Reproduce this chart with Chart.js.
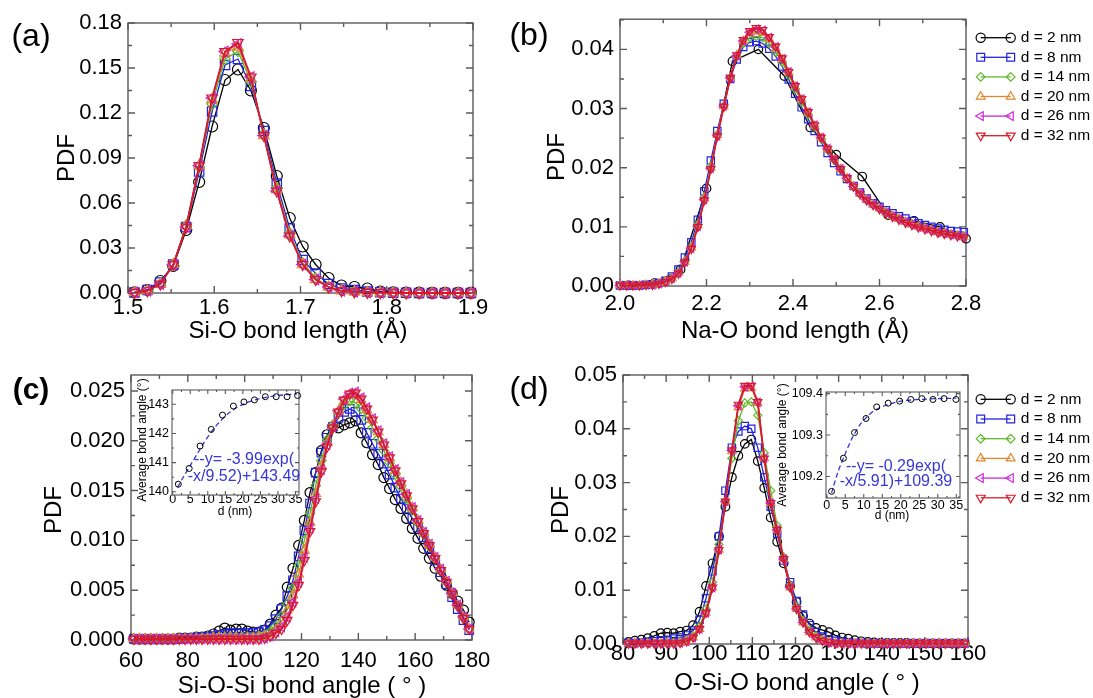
<!DOCTYPE html>
<html>
<head>
<meta charset="utf-8">
<script src="https://cdn.jsdelivr.net/npm/chart.js@4.4.1/dist/chart.umd.min.js"></script>
<style>
  html, body { margin: 0; padding: 0; background: #fff; }
  #wrap { position: relative; width: 1093px; height: 698px; overflow: hidden; }
  canvas { position: absolute; }
</style>
</head>
<body>
<div id="wrap">
  <canvas id="panelA"></canvas>
  <canvas id="panelB"></canvas>
  <canvas id="panelC"></canvas>
  <canvas id="panelD"></canvas>
  <canvas id="insetC"></canvas>
  <canvas id="insetD"></canvas>
</div>
<script>
// film thicknesses (legend)
const sizes = ['d = 2 nm', 'd = 8 nm', 'd = 14 nm', 'd = 20 nm', 'd = 26 nm', 'd = 32 nm'];

// bin centres
const steps = (start, step, n) => Array.from({ length: n }, (_, i) => +(start + i * step).toFixed(4));
const aX = steps(1.5075, 0.015, 27);
const bX = steps(2.0, 0.015, 54);
const bXd2 = [2.02, 2.08, 2.14, 2.20, 2.26, 2.32, 2.38, 2.44, 2.50, 2.56, 2.62, 2.68, 2.74, 2.80];
const cX = steps(61, 2, 60);
const dX = steps(81.25, 1.5, 53);

// (a) Si-O bond length PDF
const aD2 = [0.0005, 0.002, 0.008, 0.018, 0.042, 0.074, 0.111, 0.142, 0.149, 0.135, 0.110, 0.078, 0.050, 0.031, 0.019, 0.010, 0.005, 0.004, 0.003, 0.001, 0.0005, 0.0003, 0.0002, 0.0001, 0.0001, 0.0001, 0.0001];
const aD8 = [0.0003, 0.002, 0.007, 0.019, 0.044, 0.081, 0.121, 0.152, 0.156, 0.138, 0.108, 0.073, 0.043, 0.022, 0.013, 0.006, 0.003, 0.002, 0.001, 0.0005, 0.0002, 0.0001, 0, 0, 0, 0, 0];
const aD14 = [0.0003, 0.0015, 0.006, 0.019, 0.045, 0.084, 0.126, 0.156, 0.161, 0.141, 0.106, 0.070, 0.040, 0.020, 0.010, 0.004, 0.0015, 0.0008, 0.0004, 0.0002, 0.0001, 0, 0, 0, 0, 0, 0];
const aD20 = [0.0003, 0.0015, 0.006, 0.019, 0.045, 0.085, 0.129, 0.160, 0.164, 0.143, 0.105, 0.069, 0.039, 0.019, 0.009, 0.004, 0.0015, 0.0007, 0.0003, 0.0001, 0, 0, 0, 0, 0, 0, 0];
const aD26 = [0.0003, 0.0015, 0.006, 0.019, 0.044, 0.085, 0.130, 0.161, 0.166, 0.144, 0.105, 0.068, 0.038, 0.019, 0.009, 0.004, 0.0015, 0.0008, 0.0004, 0.0002, 0.0001, 0, 0, 0, 0, 0, 0];
const aD32 = [0.0003, 0.0015, 0.006, 0.019, 0.044, 0.085, 0.130, 0.161, 0.167, 0.144, 0.105, 0.068, 0.038, 0.019, 0.009, 0.004, 0.0015, 0.0008, 0.0004, 0.0002, 0.0001, 0, 0, 0, 0, 0, 0];

// (b) Na-O bond length PDF
const bD2 = [0.0001, 0.0005, 0.0028, 0.0165, 0.0380, 0.0400, 0.0355, 0.0268, 0.0222, 0.0185, 0.0120, 0.0110, 0.0100, 0.0080];
const bD8 = [0.0001, 0.0001, 0.0001, 0.0001, 0.0002, 0.0003, 0.0005, 0.0009, 0.0016, 0.0028,
  0.0048, 0.0074, 0.0112, 0.0160, 0.0212, 0.0262, 0.0308, 0.0350, 0.0383, 0.0404,
  0.0412, 0.0414, 0.0410, 0.0401, 0.0388, 0.0371, 0.0349, 0.0325, 0.0302, 0.0282,
  0.0262, 0.0243, 0.0225, 0.0208, 0.0194, 0.0181, 0.0169, 0.0158, 0.0148, 0.0140,
  0.0134, 0.0128, 0.0123, 0.0118, 0.0114, 0.0110, 0.0106, 0.0103, 0.0100, 0.0097,
  0.0095, 0.0093, 0.0092, 0.0091];
const bD14 = [0.0001, 0.0001, 0.0001, 0.0001, 0.0002, 0.0003, 0.0004, 0.0008, 0.0014, 0.0023,
  0.0042, 0.0066, 0.0104, 0.0150, 0.0203, 0.0256, 0.0305, 0.0352, 0.0388, 0.0410,
  0.0420, 0.0422, 0.0420, 0.0410, 0.0396, 0.0378, 0.0357, 0.0333, 0.0311, 0.0290,
  0.0269, 0.0249, 0.0230, 0.0213, 0.0197, 0.0182, 0.0168, 0.0156, 0.0146, 0.0138,
  0.0131, 0.0125, 0.0119, 0.0114, 0.0109, 0.0105, 0.0101, 0.0098, 0.0095, 0.0092,
  0.0090, 0.0088, 0.0086, 0.0084];
const bD20 = [0.0001, 0.0001, 0.0001, 0.0001, 0.0002, 0.0002, 0.0004, 0.0007, 0.0013, 0.0022,
  0.0041, 0.0065, 0.0102, 0.0148, 0.0200, 0.0255, 0.0304, 0.0352, 0.0390, 0.0414,
  0.0427, 0.0430, 0.0428, 0.0417, 0.0402, 0.0383, 0.0361, 0.0337, 0.0315, 0.0293,
  0.0271, 0.0250, 0.0231, 0.0214, 0.0198, 0.0182, 0.0168, 0.0156, 0.0146, 0.0138,
  0.0131, 0.0124, 0.0118, 0.0113, 0.0108, 0.0104, 0.0100, 0.0097, 0.0094, 0.0091,
  0.0089, 0.0087, 0.0085, 0.0083];
const bD26 = [0.0001, 0.0001, 0.0001, 0.0001, 0.0002, 0.0002, 0.0004, 0.0007, 0.0013, 0.0022,
  0.0041, 0.0064, 0.0101, 0.0146, 0.0199, 0.0254, 0.0304, 0.0352, 0.0389, 0.0414,
  0.0429, 0.0434, 0.0432, 0.0420, 0.0404, 0.0384, 0.0362, 0.0338, 0.0316, 0.0294,
  0.0272, 0.0251, 0.0232, 0.0214, 0.0198, 0.0182, 0.0168, 0.0156, 0.0146, 0.0138,
  0.0131, 0.0124, 0.0118, 0.0113, 0.0108, 0.0104, 0.0100, 0.0097, 0.0094, 0.0091,
  0.0089, 0.0087, 0.0085, 0.0083];
const bD32 = [0.0001, 0.0001, 0.0001, 0.0001, 0.0002, 0.0002, 0.0004, 0.0007, 0.0012, 0.0021,
  0.0040, 0.0063, 0.0100, 0.0145, 0.0198, 0.0253, 0.0303, 0.0352, 0.0390, 0.0416,
  0.0431, 0.0436, 0.0433, 0.0421, 0.0405, 0.0385, 0.0362, 0.0338, 0.0316, 0.0294,
  0.0272, 0.0251, 0.0232, 0.0214, 0.0198, 0.0182, 0.0168, 0.0155, 0.0145, 0.0137,
  0.0130, 0.0123, 0.0117, 0.0112, 0.0107, 0.0103, 0.0099, 0.0096, 0.0093, 0.0090,
  0.0088, 0.0086, 0.0084, 0.0082];

// (c) Si-O-Si bond angle PDF
const cD2 = [0.0001, 0.0001, 0.0001, 0.0001, 0.0001, 0.0001, 0.0001, 0.0001, 0.0002, 0.0002,
  0.0002, 0.0003, 0.0003, 0.0004, 0.0006, 0.0009, 0.0012, 0.0010, 0.0011, 0.0011,
  0.0009, 0.0008, 0.0008, 0.0010, 0.0016, 0.0025, 0.0032, 0.0053, 0.0072, 0.0095,
  0.0120, 0.0148, 0.0168, 0.0190, 0.0206, 0.0214, 0.0213, 0.0216, 0.0218, 0.0220,
  0.0208, 0.0198, 0.0186, 0.0176, 0.0163, 0.0152, 0.0141, 0.0132, 0.0122, 0.0112,
  0.0102, 0.0092, 0.0082, 0.0072, 0.0064, 0.0055, 0.0047, 0.0039, 0.0030, 0.0018];
const cD8 = [0.0001, 0.0001, 0.0001, 0.0001, 0.0001, 0.0001, 0.0001, 0.0001, 0.0001, 0.0002,
  0.0002, 0.0002, 0.0003, 0.0003, 0.0004, 0.0005, 0.0006, 0.0007, 0.0007, 0.0007,
  0.0007, 0.0007, 0.0008, 0.0010, 0.0014, 0.0021, 0.0031, 0.0044, 0.0060, 0.0084,
  0.0110, 0.0137, 0.0168, 0.0188, 0.0203, 0.0214, 0.0223, 0.0229, 0.0232, 0.0229,
  0.0221, 0.0208, 0.0197, 0.0187, 0.0177, 0.0166, 0.0153, 0.0142, 0.0132, 0.0122,
  0.0113, 0.0103, 0.0092, 0.0080, 0.0068, 0.0056, 0.0043, 0.0031, 0.0020, 0.0010];
const cD14 = [0.0001, 0.0001, 0.0001, 0.0001, 0.0001, 0.0001, 0.0001, 0.0001, 0.0001, 0.0001,
  0.0001, 0.0001, 0.0002, 0.0002, 0.0002, 0.0003, 0.0003, 0.0003, 0.0003, 0.0003,
  0.0003, 0.0003, 0.0004, 0.0005, 0.0008, 0.0014, 0.0024, 0.0036, 0.0052, 0.0075,
  0.0100, 0.0127, 0.0155, 0.0180, 0.0201, 0.0216, 0.0228, 0.0236, 0.0240, 0.0238,
  0.0232, 0.0223, 0.0213, 0.0202, 0.0190, 0.0178, 0.0166, 0.0154, 0.0142, 0.0130,
  0.0118, 0.0106, 0.0094, 0.0082, 0.0070, 0.0058, 0.0046, 0.0034, 0.0022, 0.0011];
const cD20 = [0.0001, 0.0001, 0.0001, 0.0001, 0.0001, 0.0001, 0.0001, 0.0001, 0.0001, 0.0001,
  0.0001, 0.0001, 0.0001, 0.0001, 0.0002, 0.0002, 0.0002, 0.0002, 0.0002, 0.0002,
  0.0002, 0.0002, 0.0003, 0.0004, 0.0005, 0.0010, 0.0018, 0.0030, 0.0045, 0.0066,
  0.0090, 0.0118, 0.0147, 0.0175, 0.0198, 0.0215, 0.0230, 0.0240, 0.0246, 0.0247,
  0.0241, 0.0231, 0.0221, 0.0209, 0.0196, 0.0183, 0.0170, 0.0158, 0.0146, 0.0133,
  0.0120, 0.0108, 0.0096, 0.0083, 0.0071, 0.0059, 0.0047, 0.0035, 0.0023, 0.0011];
const cD26 = [0.0001, 0.0001, 0.0001, 0.0001, 0.0001, 0.0001, 0.0001, 0.0001, 0.0001, 0.0001,
  0.0001, 0.0001, 0.0001, 0.0001, 0.0001, 0.0001, 0.0001, 0.0001, 0.0001, 0.0001,
  0.0001, 0.0001, 0.0001, 0.0002, 0.0004, 0.0008, 0.0013, 0.0023, 0.0038, 0.0058,
  0.0083, 0.0112, 0.0142, 0.0171, 0.0196, 0.0214, 0.0230, 0.0242, 0.0248, 0.0249,
  0.0243, 0.0233, 0.0222, 0.0210, 0.0197, 0.0184, 0.0171, 0.0158, 0.0146, 0.0133,
  0.0120, 0.0108, 0.0096, 0.0083, 0.0071, 0.0059, 0.0047, 0.0035, 0.0023, 0.0011];
const cD32 = [0.0001, 0.0001, 0.0001, 0.0001, 0.0001, 0.0001, 0.0001, 0.0001, 0.0001, 0.0001,
  0.0001, 0.0001, 0.0001, 0.0001, 0.0001, 0.0001, 0.0001, 0.0001, 0.0001, 0.0001,
  0.0001, 0.0001, 0.0001, 0.0002, 0.0004, 0.0007, 0.0011, 0.0020, 0.0035, 0.0055,
  0.0080, 0.0109, 0.0139, 0.0169, 0.0194, 0.0213, 0.0229, 0.0241, 0.0247, 0.0248,
  0.0242, 0.0232, 0.0221, 0.0209, 0.0196, 0.0183, 0.0170, 0.0157, 0.0145, 0.0132,
  0.0119, 0.0107, 0.0095, 0.0082, 0.0070, 0.0058, 0.0046, 0.0034, 0.0022, 0.0011];

// (d) O-Si-O bond angle PDF
const dD2 = [0.0004, 0.0006, 0.0008, 0.0011, 0.0015, 0.0020, 0.0021, 0.0020, 0.0023, 0.0025,
  0.0035, 0.0060, 0.0108, 0.0150, 0.0200, 0.0255, 0.0310, 0.0350, 0.0372, 0.0380,
  0.0340, 0.0290, 0.0235, 0.0190, 0.0150, 0.0108, 0.0078, 0.0052, 0.0038, 0.0030,
  0.0026, 0.0022, 0.0016, 0.0012, 0.0010, 0.0007, 0.0005, 0.0004, 0.0003, 0.0002,
  0.0002, 0.0002, 0.0002, 0.0002, 0.0001, 0.0001, 0.0001, 0.0001, 0.0001, 0.0001,
  0.0001, 0.0001, 0.0001];
const dD8 = [0.0002, 0.0002, 0.0003, 0.0004, 0.0005, 0.0007, 0.0008, 0.0010, 0.0012, 0.0016,
  0.0025, 0.0045, 0.0085, 0.0135, 0.0200, 0.0285, 0.0365, 0.0395, 0.0405, 0.0400,
  0.0365, 0.0310, 0.0255, 0.0205, 0.0155, 0.0115, 0.0080, 0.0055, 0.0035, 0.0022,
  0.0014, 0.0009, 0.0006, 0.0004, 0.0003, 0.0002, 0.0002, 0.0001, 0.0001, 0.0001,
  0.0001, 0.0001, 0.0001, 0.0001, 0.0001, 0.0001, 0.0001, 0.0001, 0.0001, 0.0001,
  0.0001, 0.0001, 0.0001];
const dD14 = [0.0001, 0.0001, 0.0001, 0.0001, 0.0001, 0.0001, 0.0002, 0.0003, 0.0004, 0.0007,
  0.0015, 0.0033, 0.0065, 0.0115, 0.0185, 0.0265, 0.0345, 0.0415, 0.0448, 0.0450,
  0.0425, 0.0355, 0.0285, 0.0220, 0.0162, 0.0110, 0.0070, 0.0044, 0.0026, 0.0015,
  0.0008, 0.0004, 0.0002, 0.0001, 0.0001, 0.0001, 0.0001, 0.0001, 0.0001, 0.0001,
  0.0001, 0.0001, 0.0001, 0.0001, 0.0001, 0.0001, 0.0001, 0.0001, 0.0001, 0.0001,
  0.0001, 0.0001, 0.0001];
const dD20 = [0.0001, 0.0001, 0.0001, 0.0001, 0.0001, 0.0001, 0.0001, 0.0001, 0.0002, 0.0005,
  0.0012, 0.0028, 0.0058, 0.0105, 0.0175, 0.0265, 0.0358, 0.0440, 0.0475, 0.0476,
  0.0448, 0.0345, 0.0262, 0.0212, 0.0158, 0.0105, 0.0065, 0.0040, 0.0022, 0.0012,
  0.0006, 0.0003, 0.0001, 0.0001, 0.0001, 0.0001, 0.0001, 0.0001, 0.0001, 0.0001,
  0.0001, 0.0001, 0.0001, 0.0001, 0.0001, 0.0001, 0.0001, 0.0001, 0.0001, 0.0001,
  0.0001, 0.0001, 0.0001];
const dD26 = [0.0001, 0.0001, 0.0001, 0.0001, 0.0001, 0.0001, 0.0001, 0.0001, 0.0002, 0.0005,
  0.0012, 0.0028, 0.0058, 0.0105, 0.0175, 0.0265, 0.0360, 0.0443, 0.0478, 0.0479,
  0.0449, 0.0345, 0.0262, 0.0212, 0.0158, 0.0105, 0.0065, 0.0040, 0.0022, 0.0012,
  0.0006, 0.0003, 0.0001, 0.0001, 0.0001, 0.0001, 0.0001, 0.0001, 0.0001, 0.0001,
  0.0001, 0.0001, 0.0001, 0.0001, 0.0001, 0.0001, 0.0001, 0.0001, 0.0001, 0.0001,
  0.0001, 0.0001, 0.0001];
const dD32 = [0.0001, 0.0001, 0.0001, 0.0001, 0.0001, 0.0001, 0.0001, 0.0001, 0.0002, 0.0005,
  0.0012, 0.0028, 0.0058, 0.0105, 0.0175, 0.0265, 0.0360, 0.0445, 0.0480, 0.0480,
  0.0450, 0.0345, 0.0262, 0.0212, 0.0158, 0.0105, 0.0065, 0.0040, 0.0022, 0.0012,
  0.0006, 0.0003, 0.0001, 0.0001, 0.0001, 0.0001, 0.0001, 0.0001, 0.0001, 0.0001,
  0.0001, 0.0001, 0.0001, 0.0001, 0.0001, 0.0001, 0.0001, 0.0001, 0.0001, 0.0001,
  0.0001, 0.0001, 0.0001];

// insets: average bond angle vs d, and the fitted curve
const insetCX = [1.6, 4.7, 7.8, 11.0, 14.2, 17.3, 20.3, 23.3, 26.4, 29.5, 32.6, 35.6];
const insetCY = [140.26, 140.80, 141.57, 142.14, 142.63, 142.94, 143.08, 143.15, 143.26, 143.26, 143.26, 143.30];
const fitCX = [1.4, 3, 5, 7, 9, 11, 13, 16, 20, 25, 30, 35.5];
const fitCY = [140.15, 140.5, 140.9, 141.3, 141.7, 142.05, 142.35, 142.7, 143.0, 143.2, 143.3, 143.36];
const insetDX = [1.3, 4.5, 7.5, 10.6, 13.5, 16.6, 19.7, 22.7, 25.7, 28.7, 31.7, 34.9];
const insetDY = [109.164, 109.244, 109.306, 109.340, 109.368, 109.377, 109.382, 109.386, 109.388, 109.386, 109.388, 109.386];
const fitDX = [1.3, 3, 5, 7, 9, 11, 13, 16, 20, 25, 30, 35];
const fitDY = [109.16, 109.21, 109.255, 109.295, 109.325, 109.345, 109.36, 109.372, 109.382, 109.386, 109.388, 109.389];

// tick labels
const aXTicks = [1.5, 1.6, 1.7, 1.8, 1.9];
const aYTicks = [0, 0.03, 0.06, 0.09, 0.12, 0.15, 0.18];
const bXTicks = [2.0, 2.2, 2.4, 2.6, 2.8];
const bYTicks = [0, 0.01, 0.02, 0.03, 0.04];
const cXTicks = [60, 80, 100, 120, 140, 160, 180];
const cYTicks = [0, 0.005, 0.010, 0.015, 0.020, 0.025];
const dXTicks = [80, 90, 100, 110, 120, 130, 140, 150, 160];
const dYTicks = [0, 0.01, 0.02, 0.03, 0.04, 0.05];
const insetXTicks = [0, 5, 10, 15, 20, 25, 30, 35];
const insetCYTicks = [140, 141, 142, 143];
const insetDYTicks = [109.2, 109.3, 109.4];

// styling
const FONT = '"Liberation Sans", Arial, Helvetica, sans-serif';
const colors = ['#000000', '#2323e1', '#5fb928', '#e1872d', '#cd28d7', '#d7192a'];
const markers = ['circle', 'rect', 'rectRot', 'triangle', 'triangle', 'triangle'];
const markerTurns = [0, 0, 0, 0, -90, 180];
const markerScale = [1, 1.2, 0.95, 1.1, 1.1, 1.1];
const FRAME = '#5a5a5a';
const EQ_BLUE = 'rgb(55,55,215)';

const series = (xLists, yLists, r) => yLists.map((ys, i) => {
  const xs = Array.isArray(xLists[0]) ? xLists[i] : xLists;
  return {
    label: sizes[i],
    data: ys.map((y, j) => ({ x: xs[j], y })),
    borderColor: colors[i],
    borderWidth: i === 5 ? 1.8 : 1.3,
    pointStyle: markers[i],
    pointRotation: markerTurns[i],
    pointRadius: r * markerScale[i],
    pointBorderColor: colors[i],
    pointBackgroundColor: 'rgba(0,0,0,0)',
    pointBorderWidth: 1.2,
    tension: 0,
    clip: false,
    order: 5 - i,
  };
});

const minorsOf = (majors, lo, hi) => {
  const step = majors[1] - majors[0];
  const out = [];
  for (let v = majors[0] - step / 2; v <= hi + 1e-9; v += step) if (v >= lo - 1e-9) out.push(v);
  return out;
};

// box with inward major/minor ticks on all four sides
const frame = (spec) => ({
  id: 'frame',
  beforeDatasetsDraw(chart) {
    const { ctx, chartArea: a } = chart;
    const { x, y } = chart.scales;
    const [maj, min] = spec.tickLen;
    ctx.save();
    ctx.strokeStyle = FRAME;
    ctx.lineWidth = spec.frameWidth;
    ctx.beginPath();
    const vt = (v, len) => {
      const p = x.getPixelForValue(v);
      ctx.moveTo(p, a.bottom); ctx.lineTo(p, a.bottom - len);
      ctx.moveTo(p, a.top); ctx.lineTo(p, a.top + len);
    };
    const ht = (v, len) => {
      const p = y.getPixelForValue(v);
      ctx.moveTo(a.left, p); ctx.lineTo(a.left + len, p);
      ctx.moveTo(a.right, p); ctx.lineTo(a.right - len, p);
    };
    spec.x.major.forEach((v) => vt(v, maj));
    minorsOf(spec.x.major, spec.x.min, spec.x.max).forEach((v) => vt(v, min));
    spec.y.major.forEach((v) => ht(v, maj));
    minorsOf(spec.y.major, spec.y.min, spec.y.max).forEach((v) => ht(v, min));
    ctx.stroke();
    ctx.strokeRect(a.left, a.top, a.right - a.left, a.bottom - a.top);
    ctx.restore();
  },
});

// titles, panel letters, equations and the side legend (global page coords)
const decor = (spec, box) => ({
  id: 'decor',
  afterDraw(chart) {
    const { ctx } = chart;
    (spec.texts || []).forEach((t) => {
      ctx.save();
      ctx.translate(t.x - box.left, t.y - box.top);
      if (t.rot) ctx.rotate((t.rot * Math.PI) / 180);
      ctx.font = t.font;
      ctx.fillStyle = t.color || '#000';
      ctx.textAlign = 'center';
      ctx.textBaseline = 'middle';
      ctx.fillText(t.text, 0, 0);
      ctx.restore();
    });
    const L = spec.legend;
    if (!L) return;
    chart.data.datasets.forEach((ds, i) => {
      const y = L.y0 + i * L.dy - box.top;
      const x1 = L.x1 - box.left;
      const x2 = L.x2 - box.left;
      ctx.save();
      ctx.strokeStyle = ds.borderColor;
      ctx.lineWidth = 1.3;
      ctx.beginPath();
      ctx.moveTo(x1, y);
      ctx.lineTo(x2, y);
      ctx.stroke();
      ctx.lineWidth = 1.2;
      ctx.fillStyle = 'rgba(0,0,0,0)';
      const p = { pointStyle: ds.pointStyle, rotation: ds.pointRotation, radius: L.r * markerScale[i], borderWidth: 1.2 };
      Chart.helpers.drawPoint(ctx, p, x1, y);
      Chart.helpers.drawPoint(ctx, p, x2, y);
      ctx.font = `15.5px ${FONT}`;
      ctx.fillStyle = '#000';
      ctx.textAlign = 'left';
      ctx.textBaseline = 'middle';
      ctx.fillText(ds.label, L.tx - box.left, y);
      ctx.restore();
    });
  },
});

const axis = (a, dir, size) => ({
  type: 'linear',
  min: a.min,
  max: a.max,
  grid: { display: false, drawTicks: false },
  border: { display: false },
  ticks: {
    font: { family: FONT, size: a.font },
    color: '#000',
    padding: a.pad,
    autoSkip: false,
    maxRotation: 0,
    minRotation: 0,
    callback: (v) => Number(v).toFixed(a.dec),
  },
  afterBuildTicks: (s) => { s.ticks = a.major.map((v) => ({ value: v })); },
  afterFit: (s) => { if (dir === 'x') s.height = size; else s.width = size; },
});

const makeChart = (id, box, spec) => {
  const el = document.getElementById(id);
  el.width = box.w;
  el.height = box.h;
  el.style.left = `${box.left}px`;
  el.style.top = `${box.top}px`;
  el.style.width = `${box.w}px`;
  el.style.height = `${box.h}px`;
  const ar = spec.area;
  return new Chart(el, {
    type: 'line',
    data: { datasets: spec.datasets },
    options: {
      responsive: false,
      maintainAspectRatio: false,
      devicePixelRatio: 1,
      animation: false,
      events: [],
      layout: { padding: { left: 0, top: ar.t - box.top, right: box.left + box.w - ar.r, bottom: 0 } },
      scales: {
        x: axis(spec.x, 'x', box.top + box.h - ar.b),
        y: axis(spec.y, 'y', ar.l - box.left),
      },
      plugins: { legend: { display: false }, tooltip: { enabled: false } },
    },
    plugins: [frame(spec), decor(spec, box)],
  });
};

const big = (s) => `${s}px ${FONT}`;
const legendB = { x1: 980.7, x2: 1010.7, tx: 1020.7, y0: 37.7, dy: 19.6, r: 4.6 };
const legendD = { x1: 980.7, x2: 1010.7, tx: 1020.7, y0: 399.3, dy: 19.7, r: 4.6 };

makeChart('panelA', { left: 0, top: 0, w: 500, h: 345 }, {
  area: { l: 128, t: 23, r: 473, b: 293 },
  x: { min: 1.5, max: 1.9, major: aXTicks, dec: 1, font: 22, pad: 2 },
  y: { min: 0, max: 0.18, major: aYTicks, dec: 2, font: 22, pad: 6 },
  tickLen: [7, 4], frameWidth: 1.4,
  datasets: series(aX, [aD2, aD8, aD14, aD20, aD26, aD32], 5.5),
  texts: [
    { text: '(a)', x: 31, y: 37, font: big(32) },
    { text: 'PDF', x: 67, y: 158, rot: -90, font: big(24) },
    { text: 'Si-O bond length (Å)', x: 298, y: 331, font: big(24) },
  ],
});

makeChart('panelB', { left: 500, top: 0, w: 593, h: 345 }, {
  area: { l: 620, t: 18, r: 966, b: 286 },
  x: { min: 2.0, max: 2.8, major: bXTicks, dec: 1, font: 22, pad: 5 },
  y: { min: 0, max: 0.0451, major: bYTicks, dec: 2, font: 22, pad: 6 },
  tickLen: [7, 4], frameWidth: 1.4,
  datasets: series([bXd2, bX, bX, bX, bX, bX], [bD2, bD8, bD14, bD20, bD26, bD32], 4.3),
  legend: legendB,
  texts: [
    { text: '(b)', x: 529, y: 36, font: big(32) },
    { text: 'PDF', x: 557, y: 157, rot: -90, font: big(24) },
    { text: 'Na-O bond length (Å)', x: 795, y: 331, font: big(24) },
  ],
});

makeChart('panelC', { left: 0, top: 345, w: 500, h: 353 }, {
  area: { l: 131, t: 375, r: 472, b: 640 },
  x: { min: 60, max: 180, major: cXTicks, dec: 0, font: 22, pad: 8 },
  y: { min: 0, max: 0.0266, major: cYTicks, dec: 3, font: 22, pad: 6 },
  tickLen: [7, 4], frameWidth: 1.4,
  datasets: series(cX, [cD2, cD8, cD14, cD20, cD26, cD32], 5),
  texts: [
    { text: '(c)', x: 31, y: 391, font: `bold 30px ${FONT}` },
    { text: 'PDF', x: 54, y: 510, rot: -90, font: big(24) },
    { text: 'Si-O-Si bond angle ( ° )', x: 302, y: 686, font: big(24) },
  ],
});

makeChart('panelD', { left: 500, top: 345, w: 593, h: 353 }, {
  area: { l: 623, t: 375, r: 968, b: 644 },
  x: { min: 80, max: 160, major: dXTicks, dec: 0, font: 22, pad: -3 },
  y: { min: 0, max: 0.05, major: dYTicks, dec: 2, font: 22, pad: 6 },
  tickLen: [7, 4], frameWidth: 1.4,
  datasets: series(dX, [dD2, dD8, dD14, dD20, dD26, dD32], 4.3),
  legend: legendD,
  texts: [
    { text: '(d)', x: 529, y: 390, font: big(32) },
    { text: 'PDF', x: 561, y: 510, rot: -90, font: big(24) },
    { text: 'O-Si-O bond angle ( ° )', x: 797, y: 683, font: big(24) },
  ],
});

const insetSets = (xs, ys, fx, fy) => [
  {
    data: ys.map((y, i) => ({ x: xs[i], y })),
    showLine: false,
    pointStyle: 'circle',
    pointRadius: 3,
    pointBorderWidth: 1,
    pointBorderColor: '#000',
    pointBackgroundColor: 'rgba(0,0,0,0)',
    clip: false,
    order: 0,
  },
  {
    data: fy.map((y, i) => ({ x: fx[i], y })),
    borderColor: EQ_BLUE,
    borderWidth: 1.3,
    borderDash: [5, 3],
    pointRadius: 0,
    tension: 0.3,
    order: 1,
  },
];

makeChart('insetC', { left: 128, top: 372, w: 178, h: 150 }, {
  area: { l: 172, t: 390, r: 299, b: 495 },
  x: { min: -0.2, max: 36, major: insetXTicks, dec: 0, font: 12.5, pad: -3 },
  y: { min: 139.89, max: 143.49, major: insetCYTicks, dec: 0, font: 12.5, pad: 3 },
  tickLen: [4, 2], frameWidth: 1.1,
  datasets: insetSets(insetCX, insetCY, fitCX, fitCY),
  texts: [
    { text: 'Average bond angle (°)', x: 143, y: 440, rot: -90, font: big(12) },
    { text: 'd (nm)', x: 235, y: 512, font: big(12) },
    { text: '--y= -3.99exp(', x: 244, y: 460, font: big(16), color: EQ_BLUE },
    { text: '-x/9.52)+143.49', x: 244, y: 477, font: big(16), color: EQ_BLUE },
  ],
});

makeChart('insetD', { left: 770, top: 378, w: 198, h: 147 }, {
  area: { l: 826, t: 392, r: 960, b: 498 },
  x: { min: -0.2, max: 36, major: insetXTicks, dec: 0, font: 12.5, pad: 0 },
  y: { min: 109.148, max: 109.404, major: insetDYTicks, dec: 1, font: 12.5, pad: 3 },
  tickLen: [4, 2], frameWidth: 1.1,
  datasets: insetSets(insetDX, insetDY, fitDX, fitDY),
  texts: [
    { text: 'Average bond angle (°)', x: 783, y: 445, rot: -90, font: big(12) },
    { text: 'd (nm)', x: 892, y: 516, font: big(12) },
    { text: '--y= -0.29exp(', x: 896, y: 467, font: big(16), color: EQ_BLUE },
    { text: '-x/5.91)+109.39', x: 896, y: 482, font: big(16), color: EQ_BLUE },
  ],
});
</script>
</body>
</html>
